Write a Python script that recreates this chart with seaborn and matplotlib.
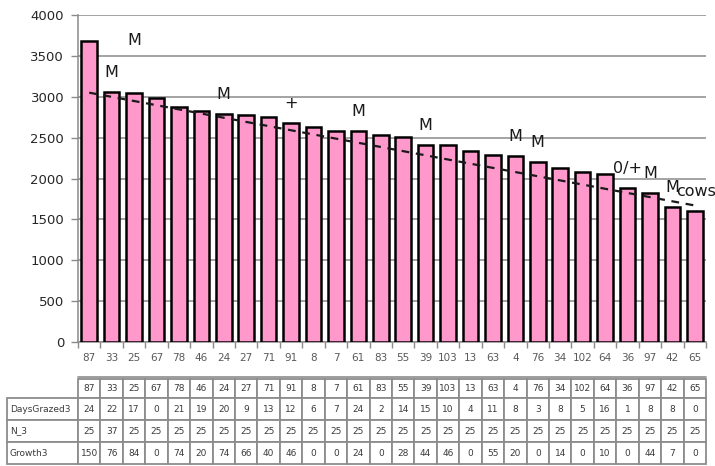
import matplotlib
matplotlib.use("Agg")
import matplotlib.pyplot as plt
from matplotlib.patches import Rectangle
import numpy as np
import pandas as pd
import seaborn as sns

# Paddock identifiers, ordered by descending pasture cover
paddocks = ["87", "33", "25", "67", "78", "46", "24", "27", "71", "91", "8", "7",
            "61", "83", "55", "39", "103", "13", "63", "4", "76", "34", "102",
            "64", "36", "97", "42", "65"]

# Pasture cover (kg DM/ha) per paddock
cover = [3680, 3060, 3040, 2990, 2870, 2820, 2795, 2775, 2755, 2680, 2630, 2585,
         2585, 2530, 2510, 2415, 2415, 2340, 2290, 2270, 2200, 2125, 2085, 2055,
         1885, 1820, 1650, 1600]

# Rows of the data table under the chart
days_grazed3 = [24, 22, 17, 0, 21, 19, 20, 9, 13, 12, 6, 7, 24, 2, 14, 15, 10,
                4, 11, 8, 3, 8, 5, 16, 1, 8, 8, 0]
n_3 = [25, 37, 25, 25, 25, 25, 25, 25, 25, 25, 25, 25, 25, 25, 25, 25, 25, 25,
       25, 25, 25, 25, 25, 25, 25, 25, 25, 25]
growth3 = [150, 76, 84, 0, 74, 20, 74, 66, 40, 46, 0, 0, 24, 0, 28, 44, 46, 0,
           55, 20, 0, 14, 0, 10, 0, 44, 7, 0]
row_names = ["DaysGrazed3", "N_3", "Growth3"]

# Notes written above some of the bars (paddock -> note)
note_paddocks = ["33", "25", "24", "91", "61", "39", "4", "76", "36", "97", "42", "65"]
note_texts = ["M", "M", "M", "+", "M", "M", "M", "M", "0/+", "M", "M", "cows"]

# Linear trend line: value at the first and last paddock
trend_ends = [3050, 1670]

# ---------------------------------------------------------------- styling
sns.set_style("white")
plt.rcParams["font.family"] = ["DejaVu Sans"]

W, H = 715, 466
fig = plt.figure(figsize=(W / 100, H / 100), dpi=100)
ax_l, ax_r, ax_t, ax_b = 78, 706, 15, 342
ax = fig.add_axes([ax_l / W, (H - ax_b) / H, (ax_r - ax_l) / W, (ax_b - ax_t) / H])

df = pd.DataFrame({"paddock": paddocks, "cover": cover})
sns.barplot(data=df, x="paddock", y="cover", order=paddocks, color="#FF99CC",
            saturation=1, width=0.7, edgecolor="black", linewidth=1.8, ax=ax,
            zorder=3)

n = len(paddocks)
ax.set_xlim(-0.5, n - 0.5)
ax.set_ylim(0, 4000)
ax.set_yticks(np.arange(0, 4001, 500))
ax.set_xlabel("")
ax.set_ylabel("")

grid_c = "#8a8a8a"
ax.yaxis.grid(True, color=grid_c, linewidth=1.1, zorder=0)
ax.set_axisbelow(True)
for side in ("top", "right"):
    ax.spines[side].set_visible(False)
for side in ("left", "bottom"):
    ax.spines[side].set_color(grid_c)
    ax.spines[side].set_linewidth(1.1)

ax.tick_params(axis="y", length=5, width=1, color=grid_c, pad=5,
               labelsize=9.5, labelcolor="#262626", left=True)
ax.tick_params(axis="x", which="major", length=0, pad=8, labelsize=7.5,
               labelcolor="#595959")
ax.set_xticks(np.arange(-0.5, n, 1.0), minor=True)
ax.tick_params(axis="x", which="minor", length=4, width=1, color=grid_c,
               bottom=True)

# trend line
ax.plot([0, n - 1], trend_ends, color="#1a1a1a", lw=1.6,
        ls=(0, (3.5, 3)), zorder=4)

# bar notes
lift = {"25": 24}
shift = {"65": 1}
for pad, txt in zip(note_paddocks, note_texts):
    i = paddocks.index(pad)
    ax.annotate(txt, xy=(i, cover[i]), xytext=(shift.get(pad, 0), 14 + lift.get(pad, 0)),
                textcoords="offset points", ha="center", va="center",
                fontsize=11.5, color="#1a1a1a", zorder=5, annotation_clip=False)

# ---------------------------------------------------------------- data table
# Table axes in pixel-like units: x runs with the chart columns, y downwards
tbl_l, tbl_top, tbl_bot = 7, 379, 465
tax = fig.add_axes([tbl_l / W, (H - tbl_bot) / H, (ax_r - tbl_l) / W,
                    (tbl_bot - tbl_top) / H])
tax.set_axis_off()
tax.set_xlim(tbl_l, ax_r)
tax.set_ylim(tbl_bot, tbl_top)

col_w = (ax_r - ax_l) / n
row_edges = [379, 398, 420, 442, 464]
edge_c = "#8c8c8c"
txt_c = "#3a3a3a"


def cell(x0, x1, y0, y1, text, align="center"):
    tax.add_patch(Rectangle((x0, y0), x1 - x0, y1 - y0, facecolor="white",
                            edgecolor=edge_c, linewidth=1.3, clip_on=False))
    if align == "left":
        tx, ha = x0 + 3, "left"
    else:
        tx, ha = (x0 + x1) / 2, "center"
    tax.text(tx, (y0 + y1) / 2, text, ha=ha, va="center", fontsize=6.5,
             color=txt_c, clip_on=False)


for c, pad in enumerate(paddocks):
    cell(ax_l + c * col_w, ax_l + (c + 1) * col_w, row_edges[0], row_edges[1], pad)
for r, (name, vals) in enumerate(zip(row_names, (days_grazed3, n_3, growth3)), start=1):
    y0, y1 = row_edges[r], row_edges[r + 1]
    cell(tbl_l, ax_l, y0, y1, name, align="left")
    for c, v in enumerate(vals):
        cell(ax_l + c * col_w, ax_l + (c + 1) * col_w, y0, y1, str(v))

# double rule along the top of the table
tax.plot([ax_l, ax_r], [row_edges[0] - 2, row_edges[0] - 2], color=edge_c,
         lw=1.2, clip_on=False)

fig.savefig("out.png", dpi=100)
